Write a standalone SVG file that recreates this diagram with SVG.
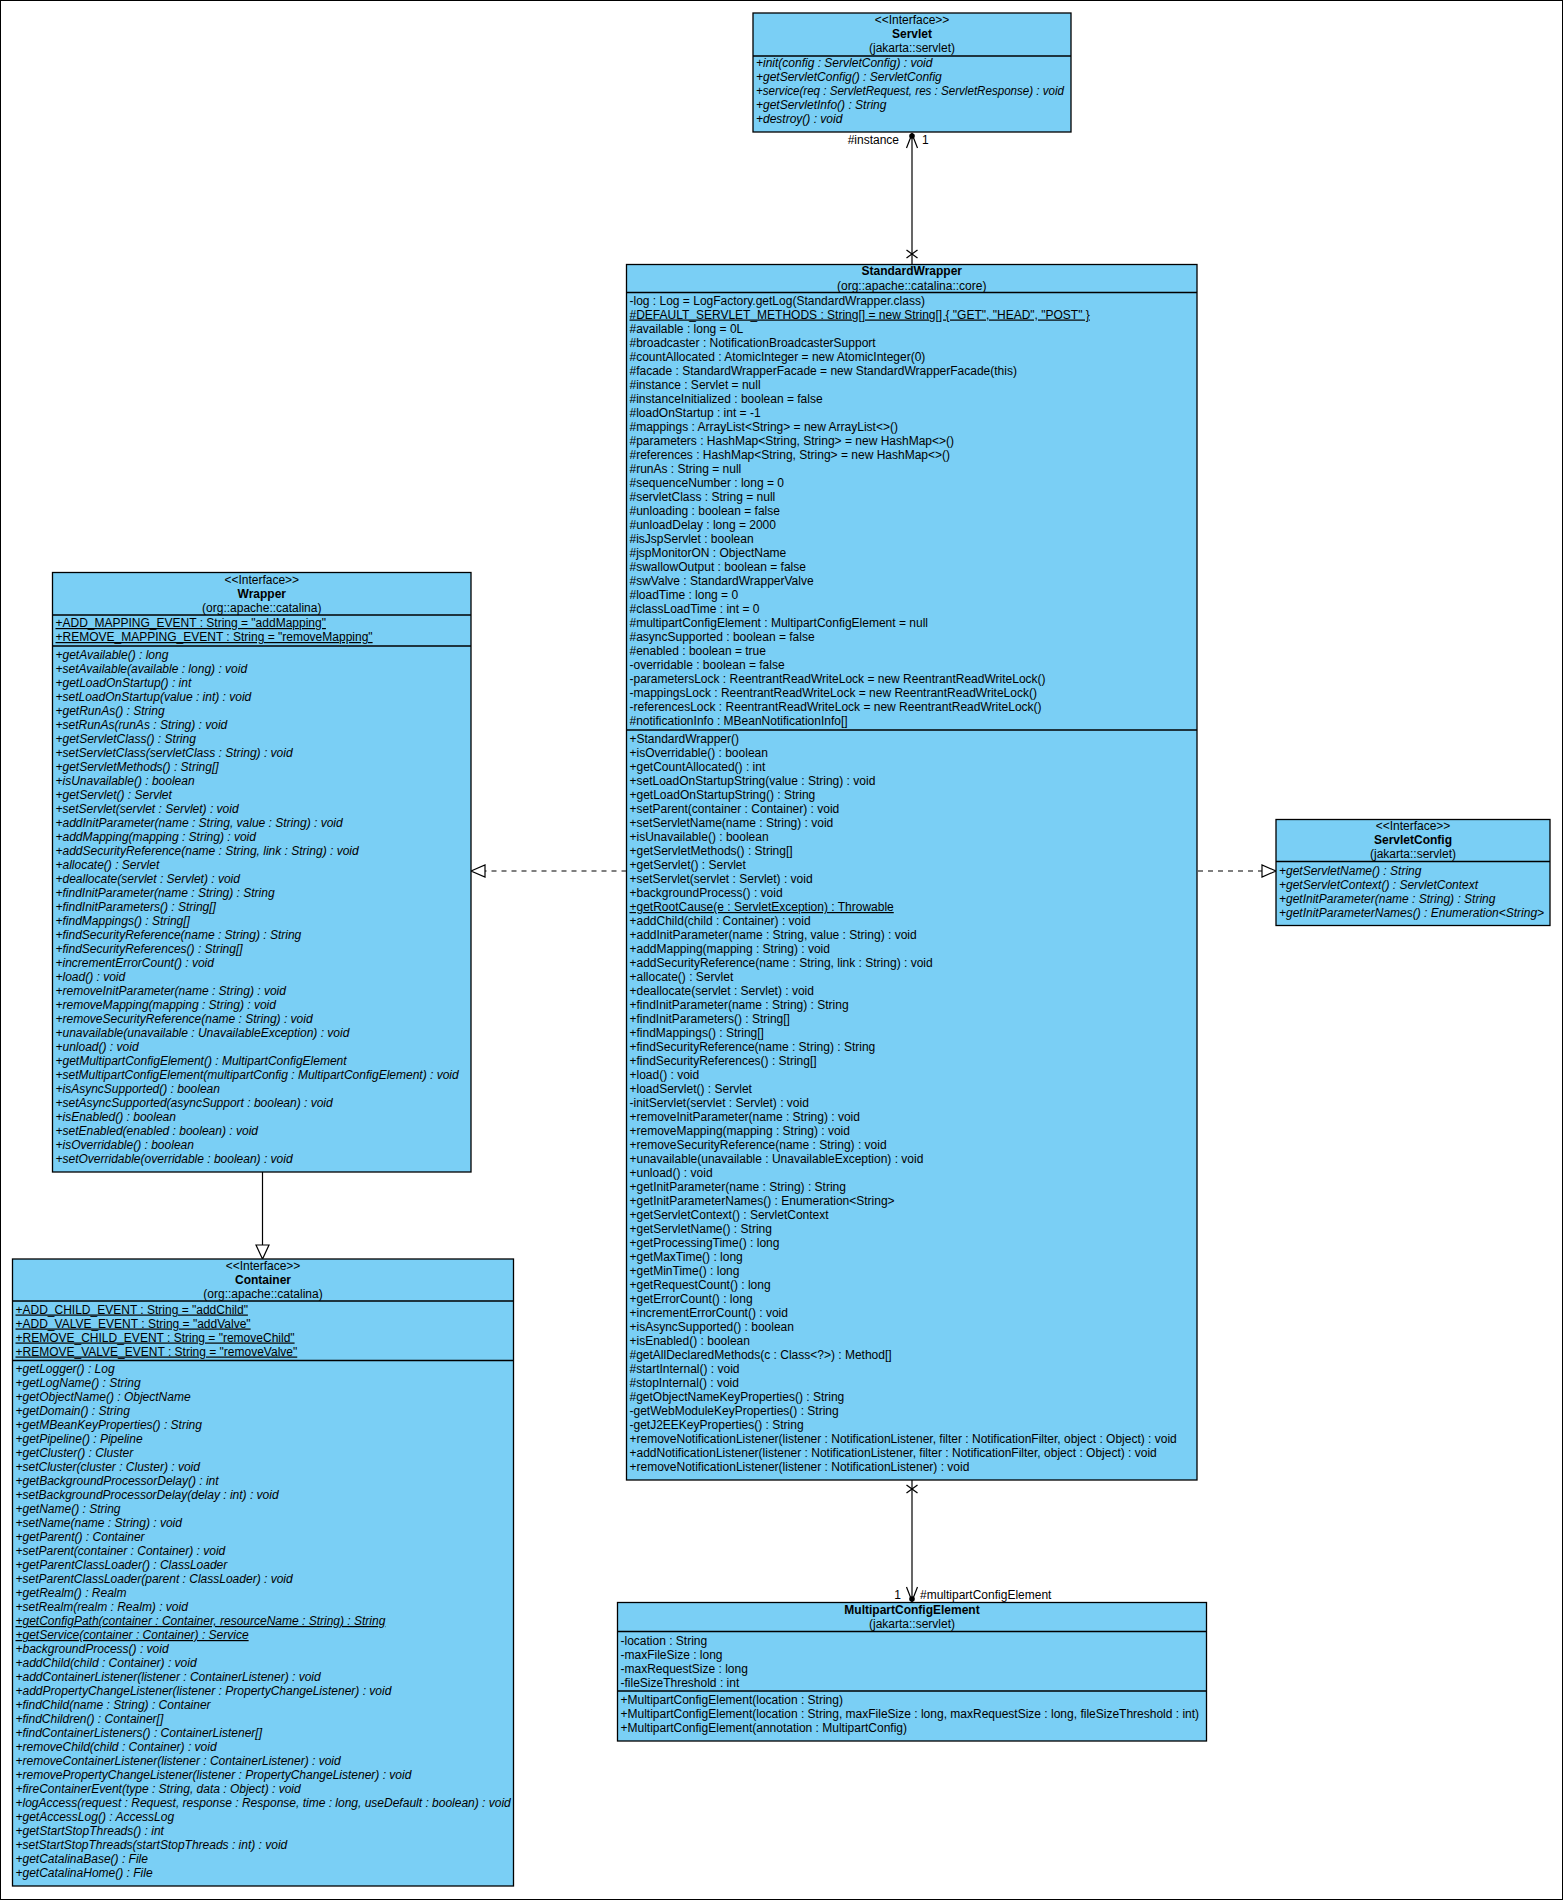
<svg xmlns="http://www.w3.org/2000/svg" width="1563" height="1900" viewBox="0 0 1563 1900">
<defs>
<style>
text{font-family:"Liberation Sans",Arial,sans-serif;font-size:12px;fill:#000}
.c{text-anchor:middle}
.e{text-anchor:end}
.b{font-weight:bold}
.i{font-style:italic}
.u{text-decoration:underline}
.box{fill:#7ACFF5;stroke:#000;stroke-width:1.3}
.sep{stroke:#000;stroke-width:1.3}
.ln{stroke:#000;stroke-width:1.2;fill:none}
.dash{stroke:#000;stroke-width:1.2;stroke-dasharray:5,5;fill:none}
.tri{fill:#fff;stroke:#000;stroke-width:1.2}
</style>
</defs>
<rect x="0" y="0" width="1563" height="1900" fill="#fff"/>
<rect x="0.5" y="0.5" width="1562" height="1899" fill="none" stroke="#000" stroke-width="1"/>

<g id="connectors">
  <!-- StandardWrapper -> Servlet (#instance) -->
  <line class="ln" x1="912" y1="133" x2="912" y2="264.5"/>
  <polyline class="ln" points="906.5,148 912,134 917.5,148"/>
  <circle cx="912" cy="136" r="2.8" fill="#000"/>
  <line class="ln" x1="906.5" y1="250" x2="917.5" y2="258"/>
  <line class="ln" x1="906.5" y1="258" x2="917.5" y2="250"/>
  <text class="e" x="899" y="144">#instance</text>
  <text x="922" y="144">1</text>
  <!-- StandardWrapper -> MultipartConfigElement -->
  <line class="ln" x1="912" y1="1480" x2="912" y2="1602.5"/>
  <polyline class="ln" points="906.5,1587 912,1601 917.5,1587"/>
  <circle cx="912" cy="1599" r="2.8" fill="#000"/>
  <line class="ln" x1="906.5" y1="1485" x2="917.5" y2="1493"/>
  <line class="ln" x1="906.5" y1="1493" x2="917.5" y2="1485"/>
  <text class="e" x="901" y="1598.5">1</text>
  <text x="920" y="1598.5">#multipartConfigElement</text>
  <!-- StandardWrapper realizes Wrapper -->
  <line class="dash" x1="626.5" y1="871" x2="485" y2="871"/>
  <polygon class="tri" points="471,871 485,865 485,877"/>
  <!-- StandardWrapper realizes ServletConfig -->
  <line class="dash" x1="1198" y1="871" x2="1262" y2="871"/>
  <polygon class="tri" points="1276,871 1262,865 1262,877"/>
  <!-- Wrapper extends Container -->
  <line class="ln" x1="262.5" y1="1172" x2="262.5" y2="1245"/>
  <polygon class="tri" points="262.5,1259 256,1245 269,1245"/>
</g>

<g id="servlet">
  <rect class="box" x="753" y="13" width="318" height="119"/>
  <text class="c" x="912" y="23.5">&lt;&lt;Interface&gt;&gt;</text>
  <text class="c b" x="912" y="37.5">Servlet</text>
  <text class="c" x="912" y="51.5">(jakarta::servlet)</text>
  <line class="sep" x1="753" y1="56" x2="1071" y2="56"/>
  <text class="i" x="756" y="66.5"><tspan x="756" dy="0">+init(config : ServletConfig) : void</tspan><tspan x="756" dy="14">+getServletConfig() : ServletConfig</tspan><tspan x="756" dy="14" textLength="308" lengthAdjust="spacingAndGlyphs">+service(req : ServletRequest, res : ServletResponse) : void</tspan><tspan x="756" dy="14">+getServletInfo() : String</tspan><tspan x="756" dy="14">+destroy() : void</tspan></text>
</g>

<g id="standardwrapper">
  <rect class="box" x="626.5" y="264.5" width="570.5" height="1215.5"/>
  <text class="c b" x="911.75" y="275">StandardWrapper</text>
  <text class="c" x="911.75" y="289.5">(org::apache::catalina::core)</text>
  <line class="sep" x1="626.5" y1="292.5" x2="1197" y2="292.5"/>
  <text x="629.5" y="304.5"><tspan x="629.5" dy="0">-log : Log = LogFactory.getLog(StandardWrapper.class)</tspan><tspan x="629.5" dy="14" class="u">#DEFAULT_SERVLET_METHODS : String[] = new String[] { "GET", "HEAD", "POST" }</tspan><tspan x="629.5" dy="14">#available : long = 0L</tspan><tspan x="629.5" dy="14">#broadcaster : NotificationBroadcasterSupport</tspan><tspan x="629.5" dy="14">#countAllocated : AtomicInteger = new AtomicInteger(0)</tspan><tspan x="629.5" dy="14">#facade : StandardWrapperFacade = new StandardWrapperFacade(this)</tspan><tspan x="629.5" dy="14">#instance : Servlet = null</tspan><tspan x="629.5" dy="14">#instanceInitialized : boolean = false</tspan><tspan x="629.5" dy="14">#loadOnStartup : int = -1</tspan><tspan x="629.5" dy="14">#mappings : ArrayList&lt;String&gt; = new ArrayList&lt;&gt;()</tspan><tspan x="629.5" dy="14">#parameters : HashMap&lt;String, String&gt; = new HashMap&lt;&gt;()</tspan><tspan x="629.5" dy="14">#references : HashMap&lt;String, String&gt; = new HashMap&lt;&gt;()</tspan><tspan x="629.5" dy="14">#runAs : String = null</tspan><tspan x="629.5" dy="14">#sequenceNumber : long = 0</tspan><tspan x="629.5" dy="14">#servletClass : String = null</tspan><tspan x="629.5" dy="14">#unloading : boolean = false</tspan><tspan x="629.5" dy="14">#unloadDelay : long = 2000</tspan><tspan x="629.5" dy="14">#isJspServlet : boolean</tspan><tspan x="629.5" dy="14">#jspMonitorON : ObjectName</tspan><tspan x="629.5" dy="14">#swallowOutput : boolean = false</tspan><tspan x="629.5" dy="14">#swValve : StandardWrapperValve</tspan><tspan x="629.5" dy="14">#loadTime : long = 0</tspan><tspan x="629.5" dy="14">#classLoadTime : int = 0</tspan><tspan x="629.5" dy="14">#multipartConfigElement : MultipartConfigElement = null</tspan><tspan x="629.5" dy="14">#asyncSupported : boolean = false</tspan><tspan x="629.5" dy="14">#enabled : boolean = true</tspan><tspan x="629.5" dy="14">-overridable : boolean = false</tspan><tspan x="629.5" dy="14">-parametersLock : ReentrantReadWriteLock = new ReentrantReadWriteLock()</tspan><tspan x="629.5" dy="14">-mappingsLock : ReentrantReadWriteLock = new ReentrantReadWriteLock()</tspan><tspan x="629.5" dy="14">-referencesLock : ReentrantReadWriteLock = new ReentrantReadWriteLock()</tspan><tspan x="629.5" dy="14">#notificationInfo : MBeanNotificationInfo[]</tspan></text>
  <line class="sep" x1="626.5" y1="730" x2="1197" y2="730"/>
  <text x="629.5" y="743"><tspan x="629.5" dy="0">+StandardWrapper()</tspan><tspan x="629.5" dy="14">+isOverridable() : boolean</tspan><tspan x="629.5" dy="14">+getCountAllocated() : int</tspan><tspan x="629.5" dy="14">+setLoadOnStartupString(value : String) : void</tspan><tspan x="629.5" dy="14">+getLoadOnStartupString() : String</tspan><tspan x="629.5" dy="14">+setParent(container : Container) : void</tspan><tspan x="629.5" dy="14">+setServletName(name : String) : void</tspan><tspan x="629.5" dy="14">+isUnavailable() : boolean</tspan><tspan x="629.5" dy="14">+getServletMethods() : String[]</tspan><tspan x="629.5" dy="14">+getServlet() : Servlet</tspan><tspan x="629.5" dy="14">+setServlet(servlet : Servlet) : void</tspan><tspan x="629.5" dy="14">+backgroundProcess() : void</tspan><tspan x="629.5" dy="14" class="u">+getRootCause(e : ServletException) : Throwable</tspan><tspan x="629.5" dy="14">+addChild(child : Container) : void</tspan><tspan x="629.5" dy="14">+addInitParameter(name : String, value : String) : void</tspan><tspan x="629.5" dy="14">+addMapping(mapping : String) : void</tspan><tspan x="629.5" dy="14">+addSecurityReference(name : String, link : String) : void</tspan><tspan x="629.5" dy="14">+allocate() : Servlet</tspan><tspan x="629.5" dy="14">+deallocate(servlet : Servlet) : void</tspan><tspan x="629.5" dy="14">+findInitParameter(name : String) : String</tspan><tspan x="629.5" dy="14">+findInitParameters() : String[]</tspan><tspan x="629.5" dy="14">+findMappings() : String[]</tspan><tspan x="629.5" dy="14">+findSecurityReference(name : String) : String</tspan><tspan x="629.5" dy="14">+findSecurityReferences() : String[]</tspan><tspan x="629.5" dy="14">+load() : void</tspan><tspan x="629.5" dy="14">+loadServlet() : Servlet</tspan><tspan x="629.5" dy="14">-initServlet(servlet : Servlet) : void</tspan><tspan x="629.5" dy="14">+removeInitParameter(name : String) : void</tspan><tspan x="629.5" dy="14">+removeMapping(mapping : String) : void</tspan><tspan x="629.5" dy="14">+removeSecurityReference(name : String) : void</tspan><tspan x="629.5" dy="14">+unavailable(unavailable : UnavailableException) : void</tspan><tspan x="629.5" dy="14">+unload() : void</tspan><tspan x="629.5" dy="14">+getInitParameter(name : String) : String</tspan><tspan x="629.5" dy="14">+getInitParameterNames() : Enumeration&lt;String&gt;</tspan><tspan x="629.5" dy="14">+getServletContext() : ServletContext</tspan><tspan x="629.5" dy="14">+getServletName() : String</tspan><tspan x="629.5" dy="14">+getProcessingTime() : long</tspan><tspan x="629.5" dy="14">+getMaxTime() : long</tspan><tspan x="629.5" dy="14">+getMinTime() : long</tspan><tspan x="629.5" dy="14">+getRequestCount() : long</tspan><tspan x="629.5" dy="14">+getErrorCount() : long</tspan><tspan x="629.5" dy="14">+incrementErrorCount() : void</tspan><tspan x="629.5" dy="14">+isAsyncSupported() : boolean</tspan><tspan x="629.5" dy="14">+isEnabled() : boolean</tspan><tspan x="629.5" dy="14">#getAllDeclaredMethods(c : Class&lt;?&gt;) : Method[]</tspan><tspan x="629.5" dy="14">#startInternal() : void</tspan><tspan x="629.5" dy="14">#stopInternal() : void</tspan><tspan x="629.5" dy="14">#getObjectNameKeyProperties() : String</tspan><tspan x="629.5" dy="14">-getWebModuleKeyProperties() : String</tspan><tspan x="629.5" dy="14">-getJ2EEKeyProperties() : String</tspan><tspan x="629.5" dy="14">+removeNotificationListener(listener : NotificationListener, filter : NotificationFilter, object : Object) : void</tspan><tspan x="629.5" dy="14">+addNotificationListener(listener : NotificationListener, filter : NotificationFilter, object : Object) : void</tspan><tspan x="629.5" dy="14">+removeNotificationListener(listener : NotificationListener) : void</tspan></text>
</g>

<g id="wrapper">
  <rect class="box" x="52.5" y="572.5" width="418.5" height="599.5"/>
  <text class="c" x="261.75" y="583.5">&lt;&lt;Interface&gt;&gt;</text>
  <text class="c b" x="261.75" y="597.5">Wrapper</text>
  <text class="c" x="261.75" y="611.5">(org::apache::catalina)</text>
  <line class="sep" x1="52.5" y1="615" x2="471" y2="615"/>
  <text class="u" x="55.5" y="627">+ADD_MAPPING_EVENT : String = "addMapping"</text>
  <text class="u" x="55.5" y="641">+REMOVE_MAPPING_EVENT : String = "removeMapping"</text>
  <line class="sep" x1="52.5" y1="646" x2="471" y2="646"/>
  <text class="i" x="55.5" y="659"><tspan x="55.5" dy="0">+getAvailable() : long</tspan><tspan x="55.5" dy="14">+setAvailable(available : long) : void</tspan><tspan x="55.5" dy="14">+getLoadOnStartup() : int</tspan><tspan x="55.5" dy="14">+setLoadOnStartup(value : int) : void</tspan><tspan x="55.5" dy="14">+getRunAs() : String</tspan><tspan x="55.5" dy="14">+setRunAs(runAs : String) : void</tspan><tspan x="55.5" dy="14">+getServletClass() : String</tspan><tspan x="55.5" dy="14">+setServletClass(servletClass : String) : void</tspan><tspan x="55.5" dy="14">+getServletMethods() : String[]</tspan><tspan x="55.5" dy="14">+isUnavailable() : boolean</tspan><tspan x="55.5" dy="14">+getServlet() : Servlet</tspan><tspan x="55.5" dy="14">+setServlet(servlet : Servlet) : void</tspan><tspan x="55.5" dy="14">+addInitParameter(name : String, value : String) : void</tspan><tspan x="55.5" dy="14">+addMapping(mapping : String) : void</tspan><tspan x="55.5" dy="14">+addSecurityReference(name : String, link : String) : void</tspan><tspan x="55.5" dy="14">+allocate() : Servlet</tspan><tspan x="55.5" dy="14">+deallocate(servlet : Servlet) : void</tspan><tspan x="55.5" dy="14">+findInitParameter(name : String) : String</tspan><tspan x="55.5" dy="14">+findInitParameters() : String[]</tspan><tspan x="55.5" dy="14">+findMappings() : String[]</tspan><tspan x="55.5" dy="14">+findSecurityReference(name : String) : String</tspan><tspan x="55.5" dy="14">+findSecurityReferences() : String[]</tspan><tspan x="55.5" dy="14">+incrementErrorCount() : void</tspan><tspan x="55.5" dy="14">+load() : void</tspan><tspan x="55.5" dy="14">+removeInitParameter(name : String) : void</tspan><tspan x="55.5" dy="14">+removeMapping(mapping : String) : void</tspan><tspan x="55.5" dy="14">+removeSecurityReference(name : String) : void</tspan><tspan x="55.5" dy="14">+unavailable(unavailable : UnavailableException) : void</tspan><tspan x="55.5" dy="14">+unload() : void</tspan><tspan x="55.5" dy="14">+getMultipartConfigElement() : MultipartConfigElement</tspan><tspan x="55.5" dy="14">+setMultipartConfigElement(multipartConfig : MultipartConfigElement) : void</tspan><tspan x="55.5" dy="14">+isAsyncSupported() : boolean</tspan><tspan x="55.5" dy="14">+setAsyncSupported(asyncSupport : boolean) : void</tspan><tspan x="55.5" dy="14">+isEnabled() : boolean</tspan><tspan x="55.5" dy="14">+setEnabled(enabled : boolean) : void</tspan><tspan x="55.5" dy="14">+isOverridable() : boolean</tspan><tspan x="55.5" dy="14">+setOverridable(overridable : boolean) : void</tspan></text>
</g>

<g id="container">
  <rect class="box" x="12.5" y="1259" width="501" height="627"/>
  <text class="c" x="263" y="1269.5">&lt;&lt;Interface&gt;&gt;</text>
  <text class="c b" x="263" y="1283.5">Container</text>
  <text class="c" x="263" y="1297.5">(org::apache::catalina)</text>
  <line class="sep" x1="12.5" y1="1301" x2="513.5" y2="1301"/>
  <text class="u" x="15.5" y="1313.5">+ADD_CHILD_EVENT : String = "addChild"</text>
  <text class="u" x="15.5" y="1327.5">+ADD_VALVE_EVENT : String = "addValve"</text>
  <text class="u" x="15.5" y="1341.5">+REMOVE_CHILD_EVENT : String = "removeChild"</text>
  <text class="u" x="15.5" y="1355.5">+REMOVE_VALVE_EVENT : String = "removeValve"</text>
  <line class="sep" x1="12.5" y1="1360.5" x2="513.5" y2="1360.5"/>
  <text class="i" x="15.5" y="1373"><tspan x="15.5" dy="0">+getLogger() : Log</tspan><tspan x="15.5" dy="14">+getLogName() : String</tspan><tspan x="15.5" dy="14">+getObjectName() : ObjectName</tspan><tspan x="15.5" dy="14">+getDomain() : String</tspan><tspan x="15.5" dy="14">+getMBeanKeyProperties() : String</tspan><tspan x="15.5" dy="14">+getPipeline() : Pipeline</tspan><tspan x="15.5" dy="14">+getCluster() : Cluster</tspan><tspan x="15.5" dy="14">+setCluster(cluster : Cluster) : void</tspan><tspan x="15.5" dy="14">+getBackgroundProcessorDelay() : int</tspan><tspan x="15.5" dy="14">+setBackgroundProcessorDelay(delay : int) : void</tspan><tspan x="15.5" dy="14">+getName() : String</tspan><tspan x="15.5" dy="14">+setName(name : String) : void</tspan><tspan x="15.5" dy="14">+getParent() : Container</tspan><tspan x="15.5" dy="14">+setParent(container : Container) : void</tspan><tspan x="15.5" dy="14">+getParentClassLoader() : ClassLoader</tspan><tspan x="15.5" dy="14">+setParentClassLoader(parent : ClassLoader) : void</tspan><tspan x="15.5" dy="14">+getRealm() : Realm</tspan><tspan x="15.5" dy="14">+setRealm(realm : Realm) : void</tspan><tspan x="15.5" dy="14" class="u">+getConfigPath(container : Container, resourceName : String) : String</tspan><tspan x="15.5" dy="14" class="u">+getService(container : Container) : Service</tspan><tspan x="15.5" dy="14">+backgroundProcess() : void</tspan><tspan x="15.5" dy="14">+addChild(child : Container) : void</tspan><tspan x="15.5" dy="14">+addContainerListener(listener : ContainerListener) : void</tspan><tspan x="15.5" dy="14">+addPropertyChangeListener(listener : PropertyChangeListener) : void</tspan><tspan x="15.5" dy="14">+findChild(name : String) : Container</tspan><tspan x="15.5" dy="14">+findChildren() : Container[]</tspan><tspan x="15.5" dy="14">+findContainerListeners() : ContainerListener[]</tspan><tspan x="15.5" dy="14">+removeChild(child : Container) : void</tspan><tspan x="15.5" dy="14">+removeContainerListener(listener : ContainerListener) : void</tspan><tspan x="15.5" dy="14">+removePropertyChangeListener(listener : PropertyChangeListener) : void</tspan><tspan x="15.5" dy="14">+fireContainerEvent(type : String, data : Object) : void</tspan><tspan x="15.5" dy="14">+logAccess(request : Request, response : Response, time : long, useDefault : boolean) : void</tspan><tspan x="15.5" dy="14">+getAccessLog() : AccessLog</tspan><tspan x="15.5" dy="14">+getStartStopThreads() : int</tspan><tspan x="15.5" dy="14">+setStartStopThreads(startStopThreads : int) : void</tspan><tspan x="15.5" dy="14">+getCatalinaBase() : File</tspan><tspan x="15.5" dy="14">+getCatalinaHome() : File</tspan></text>
</g>

<g id="servletconfig">
  <rect class="box" x="1276" y="819.5" width="274" height="106"/>
  <text class="c" x="1413" y="829.5">&lt;&lt;Interface&gt;&gt;</text>
  <text class="c b" x="1413" y="843.5">ServletConfig</text>
  <text class="c" x="1413" y="857.5">(jakarta::servlet)</text>
  <line class="sep" x1="1276" y1="861.5" x2="1550" y2="861.5"/>
  <text class="i" x="1279" y="874.5"><tspan x="1279" dy="0">+getServletName() : String</tspan><tspan x="1279" dy="14">+getServletContext() : ServletContext</tspan><tspan x="1279" dy="14">+getInitParameter(name : String) : String</tspan><tspan x="1279" dy="14">+getInitParameterNames() : Enumeration&lt;String&gt;</tspan></text>
</g>

<g id="multipartconfigelement">
  <rect class="box" x="617.5" y="1602.5" width="589" height="138.5"/>
  <text class="c b" x="912" y="1614">MultipartConfigElement</text>
  <text class="c" x="912" y="1628">(jakarta::servlet)</text>
  <line class="sep" x1="617.5" y1="1631.5" x2="1206.5" y2="1631.5"/>
  <text x="620.5" y="1644.5"><tspan x="620.5" dy="0">-location : String</tspan><tspan x="620.5" dy="14">-maxFileSize : long</tspan><tspan x="620.5" dy="14">-maxRequestSize : long</tspan><tspan x="620.5" dy="14">-fileSizeThreshold : int</tspan></text>
  <line class="sep" x1="617.5" y1="1691" x2="1206.5" y2="1691"/>
  <text x="620.5" y="1704"><tspan x="620.5" dy="0">+MultipartConfigElement(location : String)</tspan><tspan x="620.5" dy="14">+MultipartConfigElement(location : String, maxFileSize : long, maxRequestSize : long, fileSizeThreshold : int)</tspan><tspan x="620.5" dy="14">+MultipartConfigElement(annotation : MultipartConfig)</tspan></text>
</g>
</svg>
